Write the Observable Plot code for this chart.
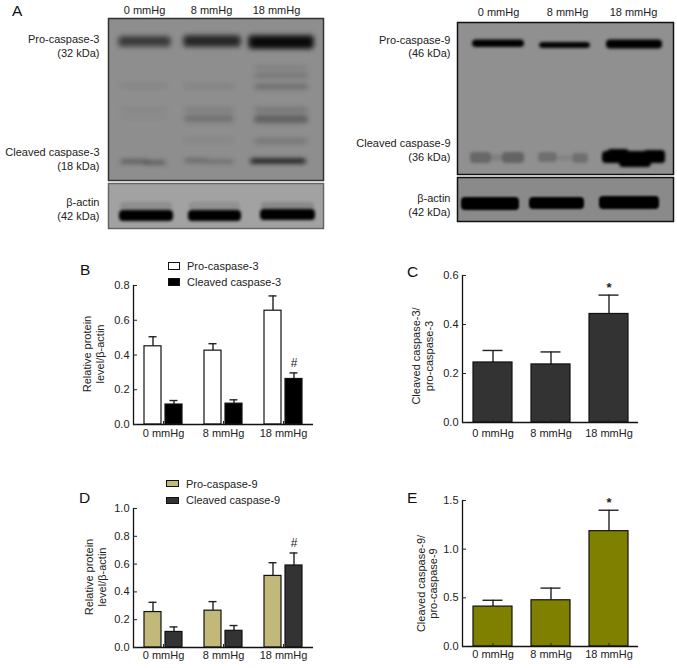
<!DOCTYPE html>
<html>
<head>
<meta charset="utf-8">
<script src="https://cdn.jsdelivr.net/npm/d3@7"></script>
<script src="https://cdn.jsdelivr.net/npm/@observablehq/plot@0.6"></script>
<style>
html,body{margin:0;padding:0;background:#fff}
#fig{position:relative;width:677px;height:668px;overflow:hidden;font-family:"Liberation Sans",Arial,sans-serif;color:#222}
#fig svg{position:absolute;background:transparent}
.letter{position:absolute;font-size:15.5px;line-height:16px;color:#111}
.leg{position:absolute;font-size:11px;line-height:13px;white-space:nowrap;color:#222}
.sw{position:absolute;box-sizing:border-box;border:1.2px solid #111}
</style>
</head>
<body>
<div id="fig"></div>
<script>
// ---------- values ----------
const pressures = ["0 mmHg", "8 mmHg", "18 mmHg"];

const proC3 = [0.45, 0.425, 0.655];
const proC3Top = [0.505, 0.465, 0.74];
const cleavedC3 = [0.115, 0.12, 0.262];
const cleavedC3Top = [0.138, 0.142, 0.297];

const ratioC3 = [0.245, 0.237, 0.443];
const ratioC3Top = [0.294, 0.288, 0.52];

const proC9 = [0.255, 0.265, 0.515];
const proC9Top = [0.325, 0.33, 0.61];
const cleavedC9 = [0.112, 0.12, 0.59];
const cleavedC9Top = [0.148, 0.158, 0.68];

const ratioC9 = [0.41, 0.475, 1.185];
const ratioC9Top = [0.475, 0.60, 1.40];

// Blot bands: [from, to, upper edge, lower edge, density], in membrane units
const c3Bands = [
  [10,63,18,29,.5],[13,60,20,25,.25],[75,133,17,29,.62],[78,130,19,27,.3],[140,206,17,31,.8],[144,203,20,29,.7],
  [146,200,48,51,.14],[146,200,55,60,.17],[146,200,66,71,.24],[146,200,90,93,.26],[146,200,97,105,.32],[146,200,120,126,.15],
  [76,126,66,70,.09],[76,126,90,93,.16],[76,126,97,104,.2],[76,126,120,125,.05],
  [12,59,66,70,.07],[12,59,90,93,.07],[12,59,97,100,.04],
  [12,40,142,145,.5],[36,58,143,146,.5],[76,100,141,144,.38],[98,126,142,145,.3],[142,198,141,145,1],[150,190,142,144,.5]
];
const c3Actin = [
  [11,65,27,38,1],[80,133,27,38,1],[152,207,26,37,1],
  [12,64,19,27,.12],[81,132,19,27,.1],[153,206,19,26,.15]
];
const c9Bands = [
  [15,67,17.5,25,1],[82,133,20,26,.98],[149,205,17.5,26.5,1],
  [13,34,130,141,.28],[45,67,130,141,.3],[33,46,132,139,.1],[81,100,130,140,.22],[115,131,131,141,.22],[100,115,133,139,.08],
  [145,208,129,141,1],[150,172,127,141,1],[162,194,134,145,1],[186,208,128,141,1]
];
const c9Actin = [
  [4,62,20,33,1],[72,127,20,32,1],[142,202,19,32,1]
];

const blotLabelsC3 = ["Pro-caspase-3\n(32 kDa)", "Cleaved caspase-3\n(18 kDa)"];
const blotLabelsC3Rows = [27, 140];
const blotLabelsC9 = ["Pro-caspase-9\n(46 kDa)", "Cleaved caspase-9\n(36 kDa)"];
const blotLabelsC9Rows = [23.5, 127.4];
const actinLabel = "β-actin\n(42 kDa)";

// ---------- helpers ----------
const fig = document.getElementById("fig");
const FONT = '"Liberation Sans",Arial,sans-serif';
function place(svg, left, top) {
  svg.style.left = left + "px";
  svg.style.top = top + "px";
  fig.appendChild(svg);
}
function html(cls, text, style) {
  const d = document.createElement("div");
  d.className = cls;
  if (text) d.textContent = text;
  Object.assign(d.style, style);
  fig.appendChild(d);
}

function blot({left, top, marginLeft, w, h, bg, stroke, bands, labels, rows, laneX, laneRow, labelDx, blur}) {
  const rowsData = bands.map(b => ({a: b[0], z: b[1], t: b[2], u: b[3], o: b[4]}));
  const marks = [
    Plot.frame({fill: bg, stroke: "none"}),
    Plot.rect(rowsData, {x1: "a", x2: "z", y1: "t", y2: "u", fill: "#000", fillOpacity: "o", rx: 4, imageFilter: `blur(${blur}px)`, clip: "frame"}),
    Plot.frame({stroke, strokeWidth: 1.5}),
    Plot.text(labels, {x: 0, y: (d, i) => rows[i], text: d => d, textAnchor: "end", dx: labelDx, lineHeight: 1.27, fontSize: 11, fill: "#222"})
  ];
  if (laneX) marks.push(Plot.text(pressures, {x: (d, i) => laneX[i], y: laneRow, text: d => d, fontSize: 11, fill: "#222"}));
  const marginTop = laneX ? 22 : 2;
  const svg = Plot.plot({
    width: marginLeft + w + 2, height: marginTop + h + 2,
    marginLeft, marginRight: 2, marginTop, marginBottom: 2,
    x: {domain: [0, w], axis: null},
    y: {domain: [0, h], reverse: true, axis: null},
    style: {fontFamily: FONT, fontSize: "11px", background: "transparent", overflow: "visible"},
    marks
  });
  place(svg, left - marginLeft, top - marginTop);
}

function grouped({left, top, width, height, marginLeft, marginRight, marginTop, marginBottom, yDomain, yTicks, names, values, tops, fills, title, titleDx, titleDy, mark, markSeries, labelPad}) {
  const rows = [];
  names.forEach((s, k) => pressures.forEach((g, i) => rows.push({g, s, v: values[k][i], t: tops[k][i]})));
  const svg = Plot.plot({
    width, height, marginLeft, marginRight, marginTop, marginBottom,
    fx: {domain: pressures, padding: 0, label: null, axis: null},
    x: {domain: names, paddingInner: 0.2, paddingOuter: 0.508, axis: null},
    y: {domain: yDomain, axis: null},
    color: {domain: names, range: fills},
    style: {fontFamily: FONT, fontSize: "11px", background: "transparent", color: "#222", overflow: "visible"},
    marks: [
      Plot.ruleX(rows, {x: "s", fx: "g", y1: "v", y2: "t", stroke: "#222", strokeWidth: 1.4}),
      Plot.tickY(rows, {x: "s", fx: "g", y: "t", stroke: "#222", strokeWidth: 1.4, insetLeft: 4.5, insetRight: 4.5}),
      Plot.barY(rows, {x: "s", fx: "g", y: "v", fill: "s", stroke: "#111", strokeWidth: 1.2}),
      Plot.ruleY([0], {stroke: "#111", strokeWidth: 1.3}),
      Plot.frame({anchor: "left", facetAnchor: "left", stroke: "#111", strokeWidth: 1.3}),
      Plot.axisY({ticks: yTicks, tickFormat: d3.format(".1f"), tickSize: -4, tickPadding: 8, fontSize: 11, facetAnchor: "left", anchor: "left", label: null}),
      Plot.axisFx({anchor: "bottom", tickSize: -3, tickPadding: labelPad, fontSize: 11, label: null, facetAnchor: "bottom"}),
      Plot.text([title], {text: d => d, frameAnchor: "left", textAnchor: "middle", rotate: -90, dx: titleDx, dy: titleDy, lineHeight: 1.2, fontSize: 11, fill: "#222", facetAnchor: "left"}),
      Plot.text(rows.filter(d => d.g === pressures[2] && d.s === markSeries), {x: "s", fx: "g", y: "t", text: () => mark, dy: -10, fontSize: 12, fill: "#222"})
    ]
  });
  place(svg, left, top);
}

function single({left, top, width, height, marginLeft, marginRight, marginTop, marginBottom, yDomain, yTicks, values, tops, fill, title, titleDx, titleDy, labelPad}) {
  const rows = pressures.map((g, i) => ({g, v: values[i], t: tops[i]}));
  const svg = Plot.plot({
    width, height, marginLeft, marginRight, marginTop, marginBottom,
    x: {domain: pressures, paddingInner: 0.33, paddingOuter: 0.165, axis: null},
    y: {domain: yDomain, axis: null},
    style: {fontFamily: FONT, fontSize: "11px", background: "transparent", color: "#222", overflow: "visible"},
    marks: [
      Plot.ruleX(rows, {x: "g", y1: "v", y2: "t", stroke: "#222", strokeWidth: 1.4}),
      Plot.tickY(rows, {x: "g", y: "t", stroke: "#222", strokeWidth: 1.4, insetLeft: 9.5, insetRight: 9.5}),
      Plot.barY(rows, {x: "g", y: "v", fill, stroke: "#111", strokeWidth: 1.2}),
      Plot.ruleY([0], {stroke: "#111", strokeWidth: 1.3}),
      Plot.frame({anchor: "left", stroke: "#111", strokeWidth: 1.3}),
      Plot.axisY({ticks: yTicks, tickFormat: d3.format(".1f"), tickSize: -4, tickPadding: 8, fontSize: 11, anchor: "left", label: null}),
      Plot.axisX({anchor: "bottom", tickSize: -3, tickPadding: labelPad, fontSize: 11, label: null}),
      Plot.text([title], {text: d => d, frameAnchor: "left", textAnchor: "middle", rotate: -90, dx: titleDx, dy: titleDy, lineHeight: 1.15, fontSize: 11, fill: "#222"}),
      Plot.text(rows.slice(2), {x: "g", y: "t", text: () => "*", dy: -7, fontSize: 13, fontWeight: "bold", fill: "#222"})
    ]
  });
  place(svg, left, top);
}

// ---------- panel A: blots ----------
blot({left: 108, top: 18, marginLeft: 108, w: 215, h: 162, bg: "#8e8e8e", stroke: "#333", bands: c3Bands,
  labels: blotLabelsC3, rows: blotLabelsC3Rows, laneX: [36, 103, 168], laneRow: -8, labelDx: -9, blur: 2.4});
blot({left: 108, top: 183, marginLeft: 108, w: 215, h: 45, bg: "#a2a2a2", stroke: "#666", bands: c3Actin,
  labels: [actinLabel], rows: [25], labelDx: -9, blur: 1.5});
blot({left: 457, top: 22, marginLeft: 117, w: 216, h: 152, bg: "#909090", stroke: "#111", bands: c9Bands,
  labels: blotLabelsC9, rows: blotLabelsC9Rows, laneX: [41, 110, 176], laneRow: -9.6, labelDx: -7, blur: 1.8});
blot({left: 457, top: 177, marginLeft: 117, w: 216, h: 44, bg: "#8a8a8a", stroke: "#111", bands: c9Actin,
  labels: [actinLabel], rows: [26.7], labelDx: -7, blur: 1.2});

// ---------- panels B–E ----------
grouped({left: 0, top: 275, width: 320, height: 174, marginLeft: 133, marginRight: 7, marginTop: 10, marginBottom: 25,
  yDomain: [0, 0.8], yTicks: [0, .2, .4, .6, .8], names: ["Pro-caspase-3", "Cleaved caspase-3"],
  values: [proC3, cleavedC3], tops: [proC3Top, cleavedC3Top], fills: ["#ffffff", "#000000"],
  title: "Relative protein\nlevel/β-actin", titleDx: -40, titleDy: -1, mark: "#", markSeries: "Cleaved caspase-3", labelPad: 8});

single({left: 400, top: 265, width: 240, height: 183, marginLeft: 62, marginRight: 2, marginTop: 10, marginBottom: 26,
  yDomain: [0, 0.6], yTicks: [0, .2, .4, .6], values: ratioC3, tops: ratioC3Top, fill: "#333333",
  title: "Cleaved caspase-3/\npro-caspase-3", titleDx: -40, titleDy: 7, labelPad: 10});

grouped({left: 0, top: 498, width: 320, height: 170, marginLeft: 133, marginRight: 7, marginTop: 10, marginBottom: 21,
  yDomain: [0, 1], yTicks: [0, .2, .4, .6, .8, 1], names: ["Pro-caspase-9", "Cleaved caspase-9"],
  values: [proC9, cleavedC9], tops: [proC9Top, cleavedC9Top], fills: ["#c2b87a", "#333333"],
  title: "Relative protein\nlevel/β-actin", titleDx: -38, titleDy: -1, mark: "#", markSeries: "Cleaved caspase-9", labelPad: 7});

single({left: 400, top: 490, width: 240, height: 178, marginLeft: 62, marginRight: 2, marginTop: 10, marginBottom: 22,
  yDomain: [0, 1.5], yTicks: [0, .5, 1, 1.5], values: ratioC9, tops: ratioC9Top, fill: "#808000",
  title: "Cleaved caspase-9/\npro-caspase-9", titleDx: -35.5, titleDy: 10, labelPad: 7});

// ---------- panel letters and legends ----------
[["A", 12, 3], ["B", 80, 262], ["C", 407, 264], ["D", 79, 490], ["E", 407, 490]].forEach(([t, x, y]) =>
  html("letter", t, {left: x + "px", top: y + "px"}));

html("sw", "", {left: "168px", top: "262px", width: "12px", height: "8px", background: "#fff"});
html("leg", "Pro-caspase-3", {left: "187px", top: "260px"});
html("sw", "", {left: "168px", top: "278px", width: "12px", height: "8px", background: "#000"});
html("leg", "Cleaved caspase-3", {left: "187px", top: "276px"});
html("sw", "", {left: "166px", top: "480px", width: "13px", height: "7px", background: "#c2b87a"});
html("leg", "Pro-caspase-9", {left: "186px", top: "478px"});
html("sw", "", {left: "166px", top: "497px", width: "13px", height: "7px", background: "#333"});
html("leg", "Cleaved caspase-9", {left: "186px", top: "494px"});
</script>
</body>
</html>
